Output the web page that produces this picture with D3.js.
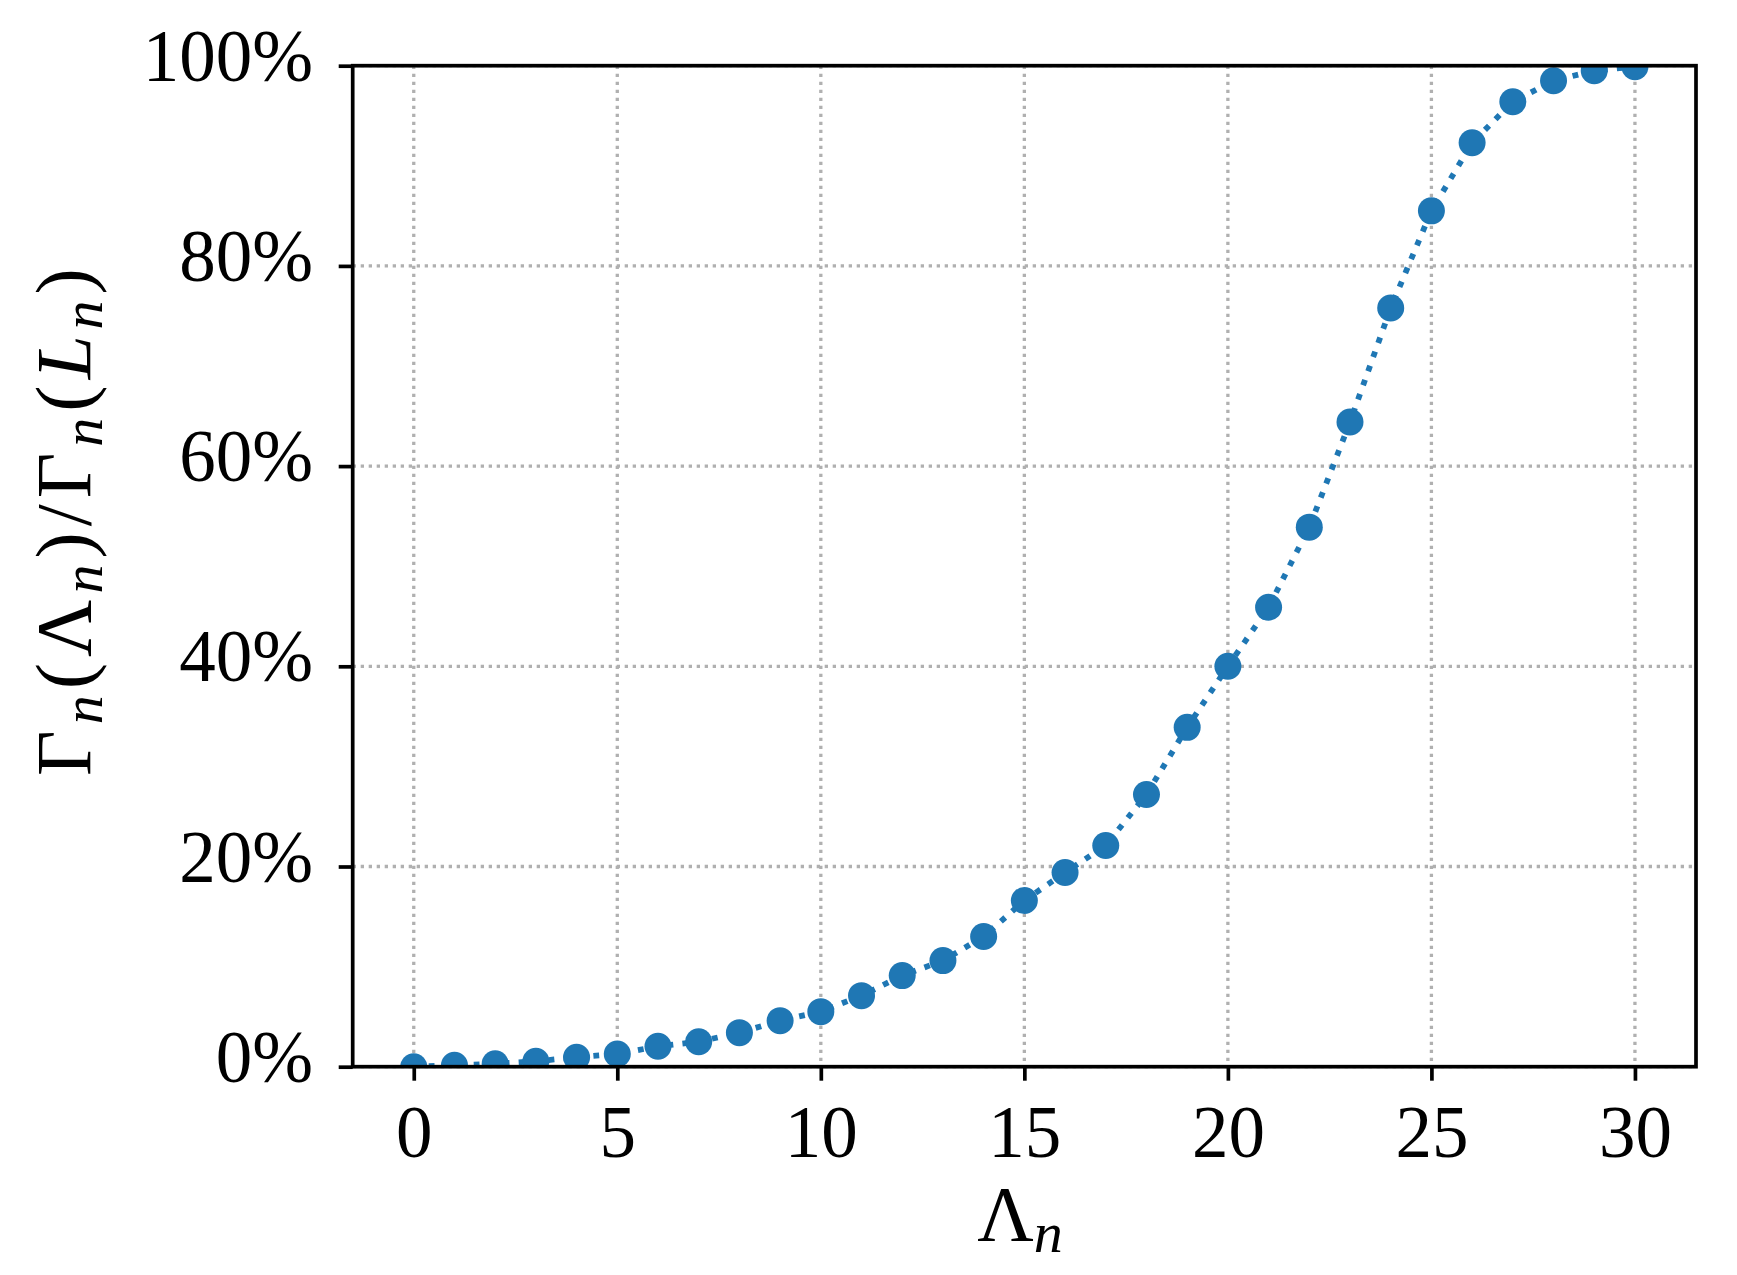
<!DOCTYPE html>
<html><head><meta charset="utf-8">
<script src="https://cdn.jsdelivr.net/npm/d3@7"></script>
<style>body{margin:0;background:#fff}</style>
</head><body>
<script>
// ---- data ----
const lambdaN = [0,1,2,3,4,5,6,7,8,9,10,11,12,13,14,15,16,17,18,19,20,21,22,23,24,25,26,27,28,29,30];
const ratio = [0.000,0.0014,0.003,0.0054,0.0094,0.0127,0.0204,0.025,0.034,0.046,0.055,0.071,0.091,0.106,0.130,0.166,0.194,0.221,0.272,0.339,0.400,0.459,0.539,0.644,0.758,0.855,0.923,0.964,0.985,0.995,0.999];
const xTickValues = [0,5,10,15,20,25,30];
const yTickValues = [0,0.2,0.4,0.6,0.8,1.0];
const yTickLabels = ["0%","20%","40%","60%","80%","100%"];

// ---- layout ----
const W = 1737, H = 1275;
const L = 352.7, R = 1696, T = 65.7, B = 1066.7;
const FONT = "'Liberation Serif', 'Times New Roman', serif";
const color = "#1f77b4";

const svg = d3.select("body").append("svg").attr("width", W).attr("height", H)
  .style("background", "#fff");

const x = d3.scaleLinear().domain([-1.5, 31.5]).range([L, R]);
const y = d3.scaleLinear().domain([0, 1]).range([B, T]);

svg.append("defs").append("clipPath").attr("id", "clip")
  .append("rect").attr("x", L).attr("y", T).attr("width", R - L).attr("height", B - T);

// grid
const grid = svg.append("g");
grid.selectAll("line.gx").data(xTickValues).join("line")
  .attr("x1", d => x(d)).attr("x2", d => x(d)).attr("y1", T).attr("y2", B)
  .attr("stroke", "#b0b0b0").attr("stroke-width", 3.3).attr("stroke-dasharray", "3.3 4.7");
grid.selectAll("line.gy").data(yTickValues).join("line")
  .attr("y1", d => y(d)).attr("y2", d => y(d)).attr("x1", L).attr("x2", R)
  .attr("stroke", "#b0b0b0").attr("stroke-width", 3.3).attr("stroke-dasharray", "3.3 4.7");

// data
const pts = lambdaN.map((v, i) => [v, ratio[i]]);
const plot = svg.append("g").attr("clip-path", "url(#clip)");
plot.append("path").datum(pts)
  .attr("d", d3.line().x(d => x(d[0])).y(d => y(d[1])))
  .attr("fill", "none").attr("stroke", color).attr("stroke-width", 5.8)
  .attr("stroke-dasharray", "5.8 9.2");
plot.selectAll("circle").data(pts).join("circle")
  .attr("cx", d => x(d[0])).attr("cy", d => y(d[1])).attr("r", 13.5)
  .attr("fill", color);

// axes
const xAxis = svg.append("g").attr("transform", `translate(0,${B})`)
  .call(d3.axisBottom(x).tickValues(xTickValues).tickFormat(d3.format("d")).tickSize(14));
const yAxis = svg.append("g").attr("transform", `translate(${L},0)`)
  .call(d3.axisLeft(y).tickValues(yTickValues).tickFormat((d, i) => yTickLabels[i]).tickSize(14));
[xAxis, yAxis].forEach(a => {
  a.select(".domain").remove();
  a.selectAll(".tick line").attr("stroke", "#000").attr("stroke-width", 3.7);
  a.selectAll(".tick text").attr("fill", "#000").style("font-family", FONT).style("font-size", "73px");
});
xAxis.selectAll(".tick text").attr("y", 90.3).attr("dy", 0);
yAxis.selectAll(".tick text").attr("x", -39.7).attr("dy", 0).attr("y", 14.5).attr("text-anchor", "end");

// spines
svg.append("rect").attr("x", L).attr("y", T).attr("width", R - L).attr("height", B - T)
  .attr("fill", "none").attr("stroke", "#000").attr("stroke-width", 3.7);

// x label
const xl = svg.append("text").attr("x", 1020).attr("y", 1240).attr("text-anchor", "middle")
  .style("font-family", FONT).style("font-size", "78px").attr("fill", "#000");
xl.append("tspan").text("Λ");
xl.append("tspan").text("n").attr("dy", 12).style("font-style", "italic").style("font-size", "58px");

// y label
const yl = svg.append("text").attr("transform", "translate(90,519) rotate(-90)")
  .attr("text-anchor", "middle").style("font-family", FONT).style("font-size", "79px")
  .style("letter-spacing", "6px").attr("fill", "#000");
const parts = [
  ["Γ", 0, false, false], ["n", 12, true, true], ["(", -12, false, false], ["Λ", 0, false, false],
  ["n", 12, true, true], [")", -12, false, false], ["/", 0, false, false], ["Γ", 0, false, false],
  ["n", 12, true, true], ["(", -12, false, false], ["L", 0, true, false], ["n", 12, true, true],
  [")", -12, false, false]
];
parts.forEach(([t, dy, it, sub]) => {
  const s = yl.append("tspan").text(t).attr("dy", dy);
  if (it) s.style("font-style", "italic");
  if (sub) s.style("font-size", "58px");
});
</script>
</body></html>
